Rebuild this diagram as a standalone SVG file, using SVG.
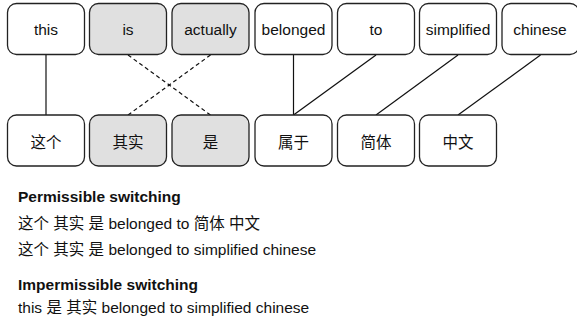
<svg xmlns="http://www.w3.org/2000/svg" width="577" height="321" viewBox="0 0 577 321">
<style>
.box{fill:#ffffff;stroke:#222;stroke-width:1.3}
.hl{fill:#e0e0e0}
.t{font-family:"Liberation Sans","Noto Sans CJK SC",sans-serif;font-size:15.5px;fill:#111;text-anchor:middle}
.c{fill:none;stroke:#111;stroke-width:1.2}
.d{stroke-dasharray:4 3}
.p{font-family:"Liberation Sans","Noto Sans CJK SC",sans-serif;font-size:15.5px;fill:#111}
.h{font-weight:bold}
</style>
<rect width="577" height="321" fill="#ffffff"/>
<g id="connectors">
<line class="c" x1="46" y1="55" x2="46" y2="115"/>
<line class="c d" x1="128" y1="55" x2="210.5" y2="115"/>
<line class="c d" x1="210.5" y1="55" x2="128" y2="115"/>
<line class="c" x1="293.5" y1="55" x2="293.5" y2="115"/>
<line class="c" x1="376" y1="55" x2="293.5" y2="115"/>
<line class="c" x1="458" y1="55" x2="376" y2="115"/>
<line class="c" x1="540.5" y1="55" x2="458" y2="115"/>
</g>
<g id="n-this"><rect class="box" x="7.5" y="3.5" width="77" height="51" rx="9"/><text class="t" x="46" y="35">this</text></g>
<g id="n-is"><rect class="box hl" x="89.5" y="3.5" width="77" height="51" rx="9"/><text class="t" x="128" y="35">is</text></g>
<g id="n-actually"><rect class="box hl" x="172" y="3.5" width="77" height="51" rx="9"/><text class="t" x="210.5" y="35">actually</text></g>
<g id="n-belonged"><rect class="box" x="255" y="3.5" width="77" height="51" rx="9"/><text class="t" x="293.5" y="35">belonged</text></g>
<g id="n-to"><rect class="box" x="337.5" y="3.5" width="77" height="51" rx="9"/><text class="t" x="376" y="35">to</text></g>
<g id="n-simplified"><rect class="box" x="419.5" y="3.5" width="77" height="51" rx="9"/><text class="t" x="458" y="35">simplified</text></g>
<g id="n-chinese"><rect class="box" x="502" y="3.5" width="77" height="51" rx="9"/><text class="t" x="540" y="35">chinese</text></g>
<g id="n-zhege"><rect class="box" x="7.5" y="115" width="77" height="51" rx="9"/><text class="t" x="46" y="148">这个</text></g>
<g id="n-qishi"><rect class="box hl" x="89.5" y="115" width="77" height="51" rx="9"/><text class="t" x="128" y="148">其实</text></g>
<g id="n-shi"><rect class="box hl" x="172" y="115" width="77" height="51" rx="9"/><text class="t" x="210.5" y="148">是</text></g>
<g id="n-shuyu"><rect class="box" x="255" y="115" width="77" height="51" rx="9"/><text class="t" x="293.5" y="148">属于</text></g>
<g id="n-jianti"><rect class="box" x="337.5" y="115" width="77" height="51" rx="9"/><text class="t" x="376" y="148">简体</text></g>
<g id="n-zhongwen"><rect class="box" x="419.5" y="115" width="77" height="51" rx="9"/><text class="t" x="458" y="148">中文</text></g>
<g id="legend">
<text class="p h" x="18" y="202">Permissible switching</text>
<text class="p" x="18" y="229">这个 其实 是 belonged to 简体 中文</text>
<text class="p" x="18" y="255">这个 其实 是 belonged to simplified chinese</text>
<text class="p h" x="18" y="290">Impermissible switching</text>
<text class="p" x="18" y="313">this 是 其实 belonged to simplified chinese</text>
</g>
</svg>
